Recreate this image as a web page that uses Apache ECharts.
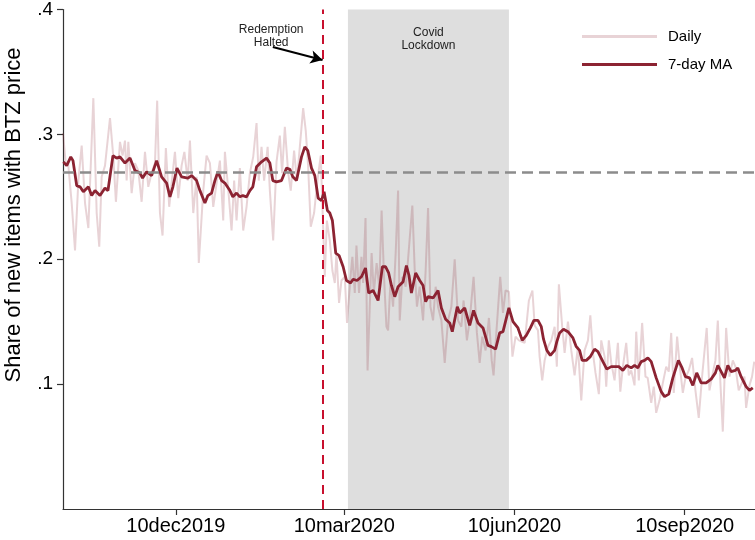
<!DOCTYPE html>
<html><head><meta charset="utf-8">
<script src="https://cdn.jsdelivr.net/npm/echarts@6/dist/echarts.min.js"></script>
<style>html,body{margin:0;padding:0;background:#fff}#c{width:755px;height:540px}</style>
</head><body><div id="c"></div>
<script>
// x values: days since 10oct2019
const xTickDays = [61, 152, 244, 336];
const xTickLabels = ["10dec2019", "10mar2020", "10jun2020", "10sep2020"];
const yTickVals = [0.1, 0.2, 0.3, 0.4];
const yTickLabels = [".1", ".2", ".3", ".4"];

const baselineMean = 0.2656;
const redemptionDay = 140.5;
const lockdownStart = 154, lockdownEnd = 241;

const maDays = [0.2,2.0,4.2,5.4,7.4,9.2,11.0,13.7,15.5,17.3,20.0,22.7,24.3,27.0,29.0,30.8,33.5,36.2,38.9,41.6,43.0,45.2,47.9,50.6,53.3,56.0,57.8,59.4,61.6,64.1,67.5,69.5,72.2,74.0,76.7,78.3,80.3,82.1,83.7,85.7,87.5,90.2,91.8,93.8,95.6,97.2,99.2,101.0,102.6,104.6,107.3,110.0,111.8,113.4,115.4,118.1,120.8,122.6,124.2,126.2,128.9,130.7,132.3,134.3,136.1,137.9,139.7,141.1,142.9,144.2,145.6,147.4,149.2,151.4,153.2,155.4,156.8,158.9,161.3,163.5,165.2,167.6,170.3,172.6,174.3,176.0,177.5,179.3,181.1,183.8,185.6,187.0,188.3,190.6,192.8,194.6,196.0,197.3,200.0,202.7,204.5,206.8,209.0,210.4,213.1,214.4,217.1,219.8,221.9,224.3,227.0,229.7,231.5,233.8,236.0,237.8,241.0,243.2,245.9,248.2,250.4,252.6,254.5,256.7,258.5,259.7,261.5,263.4,265.7,266.9,268.4,270.5,272.9,275.6,277.4,279.2,280.6,282.8,285.0,287.3,289.1,291.8,293.9,296.3,299.0,300.4,302.6,304.7,307.1,308.9,310.7,312.5,314.3,316.1,317.9,320.6,323.3,325.1,327.4,329.6,332.6,334.6,336.4,338.6,340.4,342.5,344.9,347.6,350.3,352.6,353.9,355.7,357.5,359.3,361.1,363.4,364.7,366.5,369.2,371.0,372.8];
const maVals = [.278,.275,.282,.279,.259,.258,.254,.258,.251,.255,.251,.257,.255,.283,.281,.282,.277,.281,.271,.269,.265,.270,.267,.279,.266,.261,.250,.258,.273,.266,.265,.267,.263,.255,.245,.251,.253,.263,.270,.263,.261,.255,.250,.253,.250,.251,.250,.255,.258,.274,.278,.281,.277,.263,.262,.263,.273,.272,.266,.263,.282,.290,.287,.273,.267,.249,.247,.254,.239,.237,.231,.205,.203,.194,.183,.181,.184,.183,.186,.193,.173,.175,.167,.194,.194,.189,.179,.170,.178,.182,.195,.187,.173,.189,.183,.179,.166,.170,.169,.175,.161,.152,.149,.142,.162,.157,.161,.147,.159,.149,.145,.131,.130,.128,.141,.142,.161,.150,.145,.135,.139,.145,.151,.151,.146,.136,.127,.123,.127,.134,.141,.144,.142,.137,.130,.127,.119,.119,.122,.128,.126,.118,.112,.114,.114,.114,.111,.115,.113,.115,.113,.118,.119,.121,.118,.105,.094,.090,.092,.105,.119,.113,.106,.105,.099,.109,.101,.101,.104,.109,.115,.110,.105,.115,.110,.111,.113,.106,.098,.095,.097];

const dailyDays = [0,1.6,2.7,4.7,6.5,8.3,10.1,11.9,13.7,16.4,18.2,19.6,20.9,22.7,25.4,27.2,28.6,30.8,32.2,33.5,34.4,35.3,37.1,38.9,40.7,42.5,44.3,46.1,47.9,49.7,50.9,52.4,53.8,55.6,57.4,58.7,60.5,62.3,64.1,65.6,67.4,68.6,70.4,72.2,73.4,75.8,77.6,79.4,81.2,83.0,84.8,86.6,87.5,89.6,91.1,92.5,93.8,95.6,97.4,99.2,101.0,102.8,104.6,105.8,107.3,108.7,110.6,111.8,113.6,115.4,117.2,118.4,119.9,121.7,123.1,124.9,126.4,128.0,129.8,131.2,132.5,133.9,135.7,137.5,139.3,141.5,142.6,144.2,145.6,146.9,147.8,149.2,150.5,152.3,153.5,155.4,156.4,157.7,158.6,160.0,161.3,162.2,163.5,164.6,166.8,168.0,169.5,170.9,172.2,173.5,174.8,175.7,177.0,178.4,179.8,181.1,182.0,183.4,185.2,186.5,188.8,190.1,191.3,192.8,194.6,196.0,197.3,198.6,200.0,201.4,202.7,204.5,206.3,208.1,209.9,211.7,213.5,215.3,216.5,218.3,219.8,221.9,223.7,225.2,226.6,228.4,230.2,231.7,232.7,234.2,236.3,237.8,239.2,241.0,242.9,244.6,246.4,249.5,251.8,253.7,254.9,256.7,257.6,259.0,260.3,262.1,263.9,265.7,266.9,268.0,269.8,271.1,272.9,274.7,276.5,278.3,280.1,281.9,283.7,285.0,286.4,287.8,289.6,290.9,292.7,293.6,295.0,296.3,298.1,299.9,301.2,302.6,304.4,305.8,307.1,308.9,309.8,311.2,313.0,314.8,316.0,317.9,319.3,320.6,322.4,324.2,326.0,327.4,328.7,330.1,331.9,333.6,335.0,336.4,338.2,340.0,341.8,343.6,345.4,347.9,349.4,350.8,352.6,353.9,355.3,356.6,358.4,360.2,362.0,363.4,365.2,368.3,369.2,371.0,372.4,373.6];
const dailyVals = [.301,.275,.278,.245,.207,.263,.291,.245,.225,.329,.237,.210,.266,.275,.313,.282,.246,.294,.283,.295,.263,.294,.253,.277,.271,.246,.286,.258,.269,.277,.327,.237,.219,.289,.242,.261,.286,.249,.275,.286,.263,.295,.237,.266,.197,.255,.283,.277,.242,.261,.279,.231,.286,.251,.223,.263,.231,.273,.223,.242,.269,.282,.309,.263,.290,.263,.290,.255,.215,.278,.299,.269,.306,.269,.255,.287,.263,.290,.321,.303,.274,.226,.237,.263,.283,.186,.231,.215,.191,.181,.205,.165,.183,.186,.149,.186,.202,.173,.211,.173,.202,.181,.233,.111,.205,.173,.197,.178,.239,.186,.146,.143,.183,.162,.205,.255,.151,.186,.178,.200,.243,.191,.162,.178,.151,.191,.241,.162,.151,.178,.162,.151,.117,.151,.162,.200,.151,.146,.167,.135,.151,.186,.141,.117,.138,.127,.153,.119,.107,.141,.186,.157,.175,.174,.122,.138,.135,.133,.167,.175,.147,.143,.122,.103,.119,.130,.135,.146,.114,.180,.146,.125,.150,.127,.107,.130,.087,.127,.135,.155,.125,.109,.092,.135,.122,.098,.135,.117,.103,.133,.094,.114,.133,.107,.111,.099,.142,.103,.149,.106,.105,.085,.098,.077,.087,.101,.114,.110,.141,.093,.138,.111,.093,.105,.111,.121,.095,.073,.106,.145,.095,.106,.119,.151,.101,.062,.145,.106,.119,.114,.095,.106,.081,.099,.106,.118];

const FONT = 'Liberation Sans, Arial, sans-serif';
const MA_COLOR = 'rgb(140,35,50)';
const DAILY_COLOR = 'rgba(140,35,50,0.2)';

const chart = echarts.init(document.getElementById('c'), null, {renderer: 'canvas'});
chart.setOption({
  animation: false,
  textStyle: {fontFamily: FONT},
  grid: {left: 63, top: 9, right: 0, bottom: 31, containLabel: false},
  legend: {
    orient: 'vertical', left: 577, top: 24, itemWidth: 75, itemHeight: 3, itemGap: 13,
    icon: 'rect',
    textStyle: {fontFamily: FONT, fontSize: 15, color: '#000', padding: [0, 0, 0, 6]},
    data: ['Daily', '7-day MA']
  },
  xAxis: {
    type: 'value', min: 0, max: 374,
    splitLine: {show: false},
    axisLine: {lineStyle: {color: '#333', width: 1.2}},
    axisTick: {customValues: xTickDays, length: 6, lineStyle: {color: '#333', width: 1.2}},
    axisLabel: {customValues: xTickDays, fontSize: 20, color: '#000', margin: 7, fontFamily: FONT,
      formatter: v => xTickLabels[xTickDays.indexOf(v)] || ''}
  },
  yAxis: {
    type: 'value', min: 0, max: 0.4,
    splitLine: {show: false},
    axisLine: {show: true, lineStyle: {color: '#333', width: 1.2}},
    axisTick: {show: true, customValues: yTickVals, length: 6, lineStyle: {color: '#333', width: 1.2}},
    axisLabel: {customValues: yTickVals, fontSize: 19, color: '#000', margin: 10, fontFamily: FONT,
      formatter: v => { const i = yTickVals.findIndex(t => Math.abs(t - v) < 1e-9); return i >= 0 ? yTickLabels[i] : ''; }}
  },
  graphic: [{
    type: 'text', rotation: Math.PI / 2,
    x: 14, y: 215,
    style: {text: 'Share of new items with BTZ price', font: '22px ' + FONT, fill: '#000', align: 'center', verticalAlign: 'middle'}
  }],
  series: [
    {
      name: 'Daily', type: 'line', showSymbol: false, symbol: 'none', color: DAILY_COLOR,
      lineStyle: {color: DAILY_COLOR, width: 2},
      data: dailyDays.map((d, i) => [d, dailyVals[i]]),
      markArea: {
        silent: true,
        itemStyle: {color: '#dedede'},
        label: {show: true, position: 'insideTop', distance: 17, fontSize: 12, lineHeight: 13, color: '#222', fontFamily: FONT, align: 'center'},
        data: [[{name: 'Covid\nLockdown', xAxis: lockdownStart}, {xAxis: lockdownEnd}]]
      },
      markLine: {
        silent: true, symbol: 'none', label: {show: false},
        data: [
          {yAxis: baselineMean, lineStyle: {color: '#8c8c8c', width: 2.5, type: [11, 6]}},
          {xAxis: redemptionDay, lineStyle: {color: '#c8102e', width: 2, type: [9, 6]}}
        ]
      },
      z: 2
    },
    {
      name: '7-day MA', type: 'line', showSymbol: false, symbol: 'none', color: MA_COLOR,
      lineStyle: {color: MA_COLOR, width: 2.8},
      data: maDays.map((d, i) => [d, maVals[i]]),
      markLine: {
        silent: true, symbol: ['none', 'arrow'], symbolSize: [10, 12],
        label: {show: false},
        lineStyle: {color: '#000', width: 2, type: 'solid'},
        data: [[{coord: [113.4, 0.370]}, {coord: [140.3, 0.3595]}]]
      },
      markPoint: {
        silent: true, symbol: 'circle', symbolSize: 0,
        label: {show: true, position: 'inside', formatter: 'Redemption\nHalted', fontSize: 12, lineHeight: 13.5, color: '#222', fontFamily: FONT},
        data: [{coord: [112.5, 0.3785]}]
      },
      z: 3
    }
  ]
});
</script></body></html>
